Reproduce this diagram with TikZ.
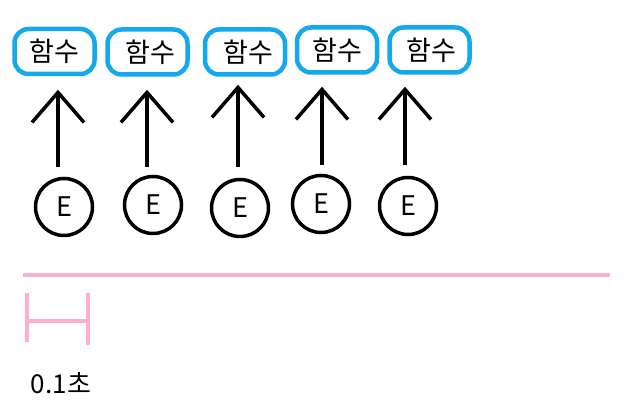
\documentclass[tikz,border=0pt]{standalone}
\usepackage{fontspec}
\newfontfamily\kofont{Noto Sans CJK KR}
\usetikzlibrary{arrows.meta}
\definecolor{funcblue}{RGB}{20,168,236}
\definecolor{tickpink}{RGB}{255,176,200}

\begin{document}
\begin{tikzpicture}[
x=1pt, y=1pt,
func/.style={draw=funcblue, line width=4.5pt, rounded corners=14pt, minimum width=80pt, minimum height=45pt, inner sep=0pt, font=\kofont\fontsize{27}{31}\selectfont},
event/.style={circle, draw=black, line width=3.5pt, minimum size=57pt, inner sep=0pt, font=\kofont\fontsize{27}{31}\selectfont},
arrow/.style={-{Straight Barb[length=30pt,width=52pt]}, line width=3.5pt, draw=black},
timeline/.style={draw=tickpink, line width=3.5pt}
]
\useasboundingbox (0,0) rectangle (643,411);
% function boxes
\node[func] (f1) at (54.5,359.5) {함수};
\node[func] (f2) at (147.5,359) {\hspace{6pt}함수};
\node[func] (f3) at (245,359) {\hspace{6pt}함수};
\node[func] (f4) at (337,361) {함수};
\node[func] (f5) at (429.5,361) {\hspace{4pt}함수};
% events
\node[event] (e1) at (64,204) {E};
\node[event] (e2) at (153,206) {E};
\node[event] (e3) at (240,203) {E};
\node[event] (e4) at (321,207) {E};
\node[event] (e5) at (408,205) {E};
\draw[arrow] ([shift={(-6,10)}]e1.north) -- ++(0,77);
\draw[arrow] ([shift={(-6,8)}]e2.north) -- ++(0,77);
\draw[arrow] ([shift={(-2,11)}]e3.north) -- ++(0,82);
\draw[arrow] ([shift={(1,9)}]e4.north) -- ++(0,78);
\draw[arrow] ([shift={(-3,11)}]e5.north) -- ++(0,78);
% time axis and scale
\draw[timeline] (23,136) -- (610,136);
\draw[timeline] (27,118) -- (27,69);
\draw[timeline] (88,118) -- (88,66);
\draw[timeline] (27,90) -- (88,90);
\node[font=\kofont\fontsize{26}{30}\selectfont] (scale) at (61,28) {0.1초};
\end{tikzpicture}
\end{document}
